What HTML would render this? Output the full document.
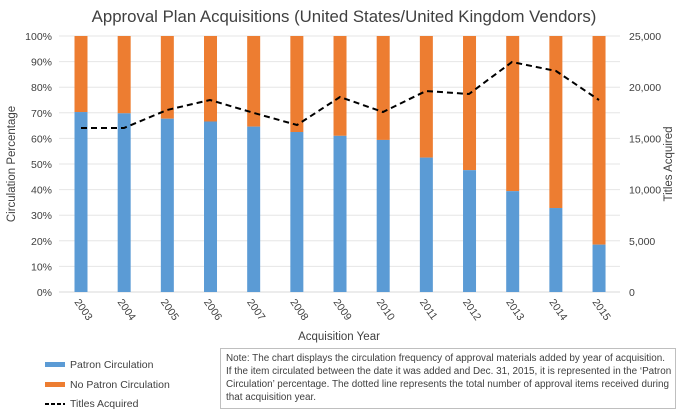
<!DOCTYPE html>
<html><head><meta charset="utf-8"><style>
body{margin:0;background:#fff;}
svg text{font-family:"Liberation Sans Narrow","Liberation Sans",sans-serif;fill:#404040;}
</style></head><body>
<svg width="686" height="413" viewBox="0 0 686 413" xmlns="http://www.w3.org/2000/svg">
<rect width="686" height="413" fill="#fff"/>
<text x="344" y="22" text-anchor="middle" font-size="16.8" style="font-family:'Liberation Sans',sans-serif" fill="#1a1a1a">Approval Plan Acquisitions (United States/United Kingdom Vendors)</text>
<g stroke="#e6e6e6" stroke-width="1">
<line x1="59" x2="620" y1="36" y2="36"/><line x1="59" x2="620" y1="61.6" y2="61.6"/><line x1="59" x2="620" y1="87.2" y2="87.2"/><line x1="59" x2="620" y1="112.8" y2="112.8"/><line x1="59" x2="620" y1="138.4" y2="138.4"/><line x1="59" x2="620" y1="164" y2="164"/><line x1="59" x2="620" y1="189.6" y2="189.6"/><line x1="59" x2="620" y1="215.2" y2="215.2"/><line x1="59" x2="620" y1="240.8" y2="240.8"/><line x1="59" x2="620" y1="266.4" y2="266.4"/><line x1="59" x2="620" y1="292" y2="292" stroke="#d9d9d9"/>
</g>
<g font-size="10.5" text-anchor="end">
<text x="52" y="40">100%</text><text x="52" y="65.6">90%</text><text x="52" y="91.2">80%</text><text x="52" y="116.8">70%</text><text x="52" y="142.4">60%</text><text x="52" y="168">50%</text><text x="52" y="193.6">40%</text><text x="52" y="219.2">30%</text><text x="52" y="244.8">20%</text><text x="52" y="270.4">10%</text><text x="52" y="296">0%</text>
</g>
<g font-size="10.5" text-anchor="start">
<text x="629" y="40">25,000</text><text x="629" y="91.2">20,000</text><text x="629" y="142.4">15,000</text><text x="629" y="193.6">10,000</text><text x="629" y="244.8">5,000</text><text x="629" y="296">0</text>
</g>
<text transform="translate(15,164) rotate(-90)" text-anchor="middle" font-size="11.5">Circulation Percentage</text>
<text transform="translate(672,164) rotate(-90)" text-anchor="middle" font-size="11.5">Titles Acquired</text>
<text x="339" y="340" text-anchor="middle" font-size="11.5">Acquisition Year</text>
<g id="bars"></g>
<g font-size="10.5" id="xl"></g>
<polyline fill="none" stroke="#000" stroke-width="2" stroke-dasharray="6,4" points="81,128 124,128 167,110 210,100 254,113 297,125 340,97 383,112 426,91 469,94 512,62 556,71 599,100"/>
<rect x="45" y="362" width="20" height="5" fill="#5b9bd5"/><text x="70" y="368" font-size="10.5">Patron Circulation</text>
<rect x="45" y="382" width="20" height="5" fill="#ed7d31"/><text x="70" y="388" font-size="10.5">No Patron Circulation</text>
<line x1="45" x2="65" y1="404" y2="404" stroke="#000" stroke-width="2" stroke-dasharray="4,2"/><text x="70" y="407" font-size="10.5">Titles Acquired</text>
<rect x="220.5" y="348.5" width="455" height="60" fill="#fff" stroke="#bfbfbf"/>
<g font-size="9.9" fill="#222">
<text x="226" y="361">Note: The chart displays the circulation frequency of approval materials added by year of acquisition.</text>
<text x="226" y="374">If the item circulated between the date it was added and Dec. 31, 2015, it is represented in the ‘Patron</text>
<text x="226" y="387">Circulation’ percentage. The dotted line represents the total number of approval items received during</text>
<text x="226" y="400">that acquisition year.</text>
</g>
<script>
var p=[70.3,69.8,67.7,66.6,64.6,62.5,61,59.4,52.5,47.6,39.4,32.8,18.5];
var b=document.getElementById('bars'),xl=document.getElementById('xl'),ns="http://www.w3.org/2000/svg";
for(var i=0;i<13;i++){var cx=81+i*43.17,yb=292-p[i]*2.56;
var r=document.createElementNS(ns,'rect');r.setAttribute('x',cx-6.5);r.setAttribute('y',36);r.setAttribute('width',13);r.setAttribute('height',yb-36);r.setAttribute('fill','#ed7d31');b.appendChild(r);
r=document.createElementNS(ns,'rect');r.setAttribute('x',cx-6.5);r.setAttribute('y',yb);r.setAttribute('width',13);r.setAttribute('height',292-yb);r.setAttribute('fill','#5b9bd5');b.appendChild(r);
var t=document.createElementNS(ns,'text');t.setAttribute('transform','translate('+(cx-7)+',302) rotate(55)');t.textContent=2003+i;xl.appendChild(t);}
</script>
</svg>
</body></html>
